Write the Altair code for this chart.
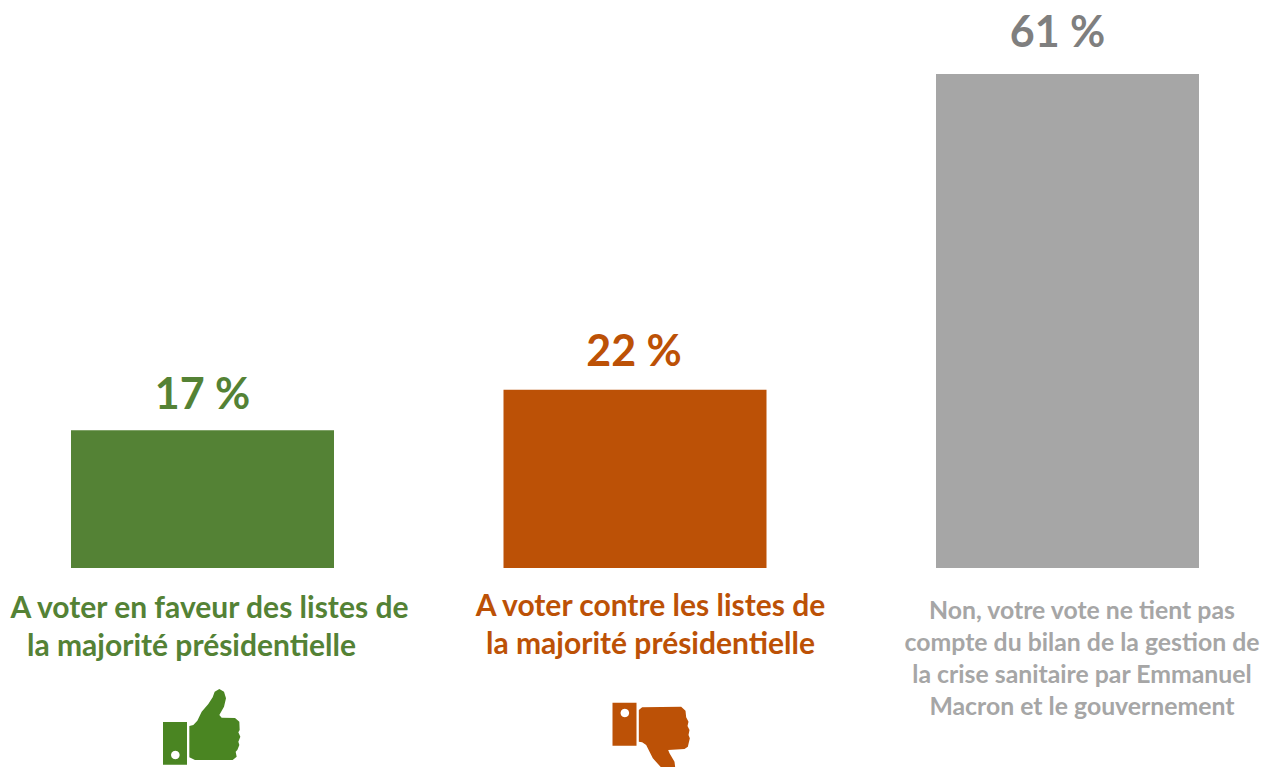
import math
import altair as alt
import pandas as pd

categories = ["favour", "against", "none"]
values = [17, 22, 61]
value_labels = ["17 %", "22 %", "61 %"]
bar_colors = ["#548235", "#BC5106", "#A6A6A6"]
value_colors = ["#548235", "#BC5106", "#7F7F7F"]
value_offsets = [(0, -34), (-1, -37), (-10, -40)]

label_lines = [
    ("favour", "A voter en faveur des listes de", 601, 7, "#548235", 30),
    ("favour", "la majorité présidentielle", 639, -11, "#548235", 30),
    ("against", "A voter contre les listes de", 599, 15.5, "#BC5106", 30),
    ("against", "la majorité présidentielle", 637, 15.5, "#BC5106", 30),
    ("none", "Non, votre vote ne tient pas", 604, 14.5, "#A6A6A6", 24.8),
    ("none", "compte du bilan de la gestion de", 636, 14.5, "#A6A6A6", 24.8),
    ("none", "la crise sanitaire par Emmanuel", 668, 14.5, "#A6A6A6", 24.8),
    ("none", "Macron et le gouvernement", 700, 14.5, "#A6A6A6", 24.8),
]

FONT = "Lato"
W = 1252
H = 759


def poly(points, ax, ay):
    return "M" + "L".join(f"{x - ax:.1f},{y - ay:.1f}" for x, y in points) + "Z"


def hole(cx, cy, r, ax, ay):
    pts = [(cx + r * math.cos(-i * math.pi / 6), cy + r * math.sin(-i * math.pi / 6)) for i in range(12)]
    return poly(pts, ax, ay)


up_hand = [(148, 138), (160, 135), (172, 122), (185, 95), (205, 72), (218, 52), (224, 35), (238, 27), (252, 35),
           (258, 55), (252, 80), (238, 105), (245, 113), (285, 114), (298, 125), (299, 150), (295, 157), (301, 170),
           (295, 185), (298, 195), (292, 210), (287, 215), (290, 230), (278, 240), (165, 240), (148, 232)]
up_cuff = [(69, 126), (141, 126), (141, 254), (69, 254)]
down_hand = [(148, 60), (158, 52), (275, 50), (288, 62), (290, 82), (297, 95), (294, 108), (300, 120), (297, 135),
             (301, 145), (295, 170), (285, 177), (236, 180), (240, 190), (255, 215), (258, 240), (250, 262),
             (225, 262), (222, 240), (190, 205), (170, 165), (158, 157), (148, 155)]
down_cuff = [(69, 38), (141, 38), (141, 167), (69, 167)]

UP = poly(up_hand, 187.5, 140) + poly(up_cuff, 187.5, 140) + hole(106, 225, 13, 187.5, 140)
DOWN = poly(down_hand, 136.5, 140) + poly(down_cuff, 136.5, 140) + hole(106, 69, 13, 136.5, 140)

df = pd.DataFrame({"cat": categories, "value": values, "label": value_labels, "color": bar_colors})

x_scale = alt.Scale(domain=categories, range=[63, 1191], paddingInner=0.3919, paddingOuter=0)
y_scale = alt.Scale(domain=[-(H - 560) / 8.1, 560 / 8.1], nice=False, zero=False)
X = alt.X("cat:N", scale=x_scale, axis=None)
Y = alt.Y("value:Q", scale=y_scale, axis=None)

bars = alt.Chart(df).mark_bar().encode(x=X, y=Y, y2=alt.datum(0), color=alt.Color("color:N", scale=None))

layers = [bars]

for i, cat in enumerate(categories):
    dx, dy = value_offsets[i]
    layers.append(
        alt.Chart(df[df["cat"] == cat]).mark_text(
            font=FONT, fontWeight="bold", fontSize=43, color=value_colors[i], dx=dx, dy=dy, baseline="middle"
        ).encode(x=X, y=Y, text="label:N")
    )

for cat, line, py, dx, col, fs in label_lines:
    layers.append(
        alt.Chart(pd.DataFrame({"cat": [cat], "t": [line]})).mark_text(
            font=FONT, fontWeight="bold", fontSize=fs, color=col, dx=dx, baseline="middle"
        ).encode(x=X, y=alt.value(py), text="t:N")
    )

for cat, path, col, py in [("favour", UP, "#4A8522", 718.67), ("against", DOWN, "#BC5106", 728.67)]:
    layers.append(
        alt.Chart(pd.DataFrame({"cat": [cat]})).mark_point(
            shape=path, filled=True, size=4 / 9, opacity=1, color=col
        ).encode(x=X, y=alt.value(py))
    )

chart = alt.layer(*layers).properties(
    width=W, height=H, padding=0, autosize="none", background="white"
).configure_view(stroke=None)

chart.save("out.html", embed_options={"renderer": "svg", "actions": False})
